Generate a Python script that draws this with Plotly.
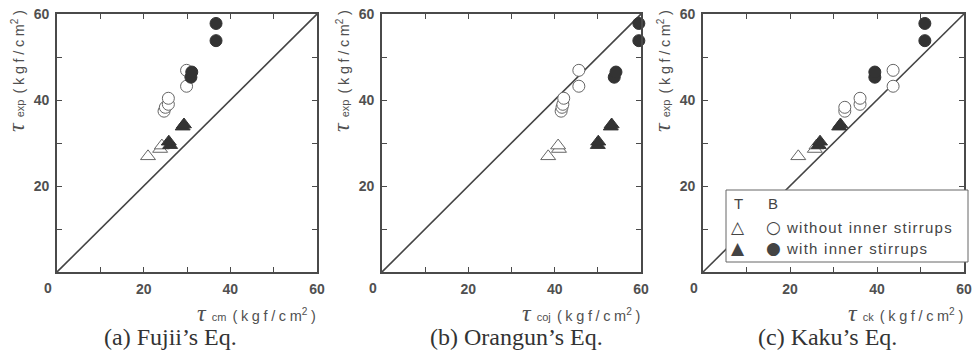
import plotly.graph_objects as go

W, H = 972, 354

# ---- data (y = tau_exp, common to all panels) ----
y_open_tri = [26.9, 28.6, 29.4]
y_fill_tri = [29.5, 30.3, 33.8, 34.3]
y_open_cir = [37.4, 38.3, 39.0, 40.4, 43.2, 46.9]
y_fill_cir = [45.3, 46.5, 53.8, 57.8]

# panel (a) Fujii: tau_cm
a_open_tri = [21.0, 23.8, 24.2]
a_fill_tri = [26.1, 25.8, 29.0, 29.3]
a_open_cir = [24.7, 25.0, 25.7, 25.7, 29.9, 29.9]
a_fill_cir = [30.9, 31.1, 36.7, 36.7]

# panel (b) Orangun: tau_coj
b_open_tri = [38.5, 41.0, 40.8]
b_fill_tri = [50.0, 50.1, 53.0, 53.2]
b_open_cir = [41.5, 41.7, 41.9, 42.1, 45.6, 45.6]
b_fill_cir = [53.8, 54.2, 59.5, 59.5]

# panel (c) Kaku: tau_ck
c_open_tri = [21.9, 25.7, 26.1]
c_fill_tri = [26.6, 26.9, 31.3, 31.6]
c_open_cir = [32.6, 32.6, 36.1, 36.1, 43.7, 43.7]
c_fill_cir = [39.5, 39.5, 51.0, 51.0]

diag = [0, 60]
tick_vals = [0, 10, 20, 30, 40, 50, 60]
tick_text = ["", "", "20", "", "40", "", "60"]
x_subs = ["cm", "coj", "ck"]
captions = ["(a) Fujii\u2019s Eq.", "(b) Orangun\u2019s Eq.", "(c) Kaku\u2019s Eq."]

panels = [
    (a_open_tri, a_fill_tri, a_open_cir, a_fill_cir),
    (b_open_tri, b_fill_tri, b_open_cir, b_fill_cir),
    (c_open_tri, c_fill_tri, c_open_cir, c_fill_cir),
]

px_left = [57, 382, 703]
px_right = [317, 641, 964]
px_top, px_bot = 14, 272
cap_cx = [170, 516, 827]

def fx(p):
    return p / W

def fy(p):
    return 1 - p / H

AX = "#4a4a4a"
DARK = "#333333"
TXT = "#505050"

fig = go.Figure()
for i, (ot, ft, oc, fc) in enumerate(panels):
    xa = "x" if i == 0 else f"x{i+1}"
    ya = "y" if i == 0 else f"y{i+1}"
    fig.add_trace(go.Scatter(x=diag, y=diag, mode="lines", xaxis=xa, yaxis=ya,
                             line=dict(color="#444", width=1.6), showlegend=False))
    fig.add_trace(go.Scatter(x=ot, y=y_open_tri, mode="markers", xaxis=xa, yaxis=ya,
                             marker=dict(symbol="triangle-up", size=13, color="white",
                                         line=dict(color="#666", width=1)),
                             cliponaxis=False, showlegend=False))
    fig.add_trace(go.Scatter(x=oc, y=y_open_cir, mode="markers", xaxis=xa, yaxis=ya,
                             marker=dict(symbol="circle", size=12, color="white",
                                         line=dict(color="#666", width=1)),
                             cliponaxis=False, showlegend=False))
    fig.add_trace(go.Scatter(x=ft, y=y_fill_tri, mode="markers", xaxis=xa, yaxis=ya,
                             marker=dict(symbol="triangle-up", size=13, color=DARK,
                                         line=dict(color=DARK, width=1)),
                             cliponaxis=False, showlegend=False))
    fig.add_trace(go.Scatter(x=fc, y=y_fill_cir, mode="markers", xaxis=xa, yaxis=ya,
                             marker=dict(symbol="circle", size=12, color=DARK,
                                         line=dict(color=DARK, width=1)),
                             cliponaxis=False, showlegend=False))

axis_common = dict(range=[0, 60], tickmode="array", tickvals=tick_vals, ticktext=tick_text,
                   ticks="inside", ticklen=5, tickwidth=1.3, tickcolor=AX,
                   showline=True, linecolor=AX, linewidth=1.6, mirror="ticks",
                   showgrid=False, zeroline=False, automargin=False,
                   tickfont=dict(family="Liberation Sans, Arial", size=14, color=TXT, weight="bold"))

layout_axes = {}
for i in range(3):
    sx = "xaxis" if i == 0 else f"xaxis{i+1}"
    sy = "yaxis" if i == 0 else f"yaxis{i+1}"
    ya = "y" if i == 0 else f"y{i+1}"
    xa = "x" if i == 0 else f"x{i+1}"
    layout_axes[sx] = dict(axis_common, domain=[fx(px_left[i]), fx(px_right[i])], anchor=ya,
                           ticklabelstandoff=3)
    layout_axes[sy] = dict(axis_common, domain=[fy(px_bot), fy(px_top)], anchor=xa,
                           ticklabelstandoff=3)

fig.update_layout(width=W, height=H, margin=dict(l=0, r=0, t=0, b=0, pad=0, autoexpand=False),
                  paper_bgcolor="white", plot_bgcolor="white", **layout_axes)

TS = "\u2005"
unit = TS.join(list("(kgf/cm")) + "<sup>2</sup>" + TS + ")"

def tau_label(sub):
    return (f"<span style='font-family:Liberation Serif;font-size:24px'><i>\u03c4</i></span>"
            f"<span style='font-size:11px'>  {sub}  </span>"
            f"<span style='font-size:14.5px'>{unit}</span>")

def A(x, y, text, font, xanchor="center", yanchor="middle", **kw):
    return dict(x=fx(x), y=fy(y), xref="paper", yref="paper", text=text, showarrow=False,
                xanchor=xanchor, yanchor=yanchor, font=font, **kw)

ann = []
for i in range(3):
    ann.append(A(px_left[i] - 9, 288, "<b>0</b>",
                 dict(family="Liberation Sans", size=14, color=TXT)))
    ann.append(A(px_right[i] + 1, 313, tau_label(x_subs[i]),
                 dict(family="Liberation Sans", size=13, color=TXT), xanchor="right"))
    ann.append(A(px_left[i] - 41, 71, tau_label("exp"),
                 dict(family="Liberation Sans", size=13, color=TXT), textangle=-90))
    ann.append(A(cap_cx[i], 337, captions[i],
                 dict(family="Liberation Serif", size=24, color="#333")))

shapes = [dict(type="rect", xref="paper", yref="paper", x0=fx(726), x1=fx(968), y0=fy(262), y1=fy(190),
               line=dict(color="#666", width=1), fillcolor="white", layer="above")]
LF = dict(family="Liberation Sans", size=15, color="#444")
SF = dict(family="DejaVu Sans", size=17, color="#444")
ann.append(A(738, 203, "T", LF))
ann.append(A(773, 203, "B", LF))
ann.append(A(738, 227, "\u25b3", SF))
ann.append(A(773, 227, "\u25cb", SF))
ann.append(A(738, 248, "\u25b2", SF))
ann.append(A(773, 248, "\u25cf", SF))
sp = "\u200a"
ann.append(A(784, 227, sp.join(list("without inner stirrups")), LF, xanchor="left"))
ann.append(A(784, 248, sp.join(list("with inner stirrups")), LF, xanchor="left"))

fig.update_layout(annotations=ann, shapes=shapes)
fig.write_html("out.html", config={"displayModeBar": False},
               post_script="document.body.style.margin='0';")
